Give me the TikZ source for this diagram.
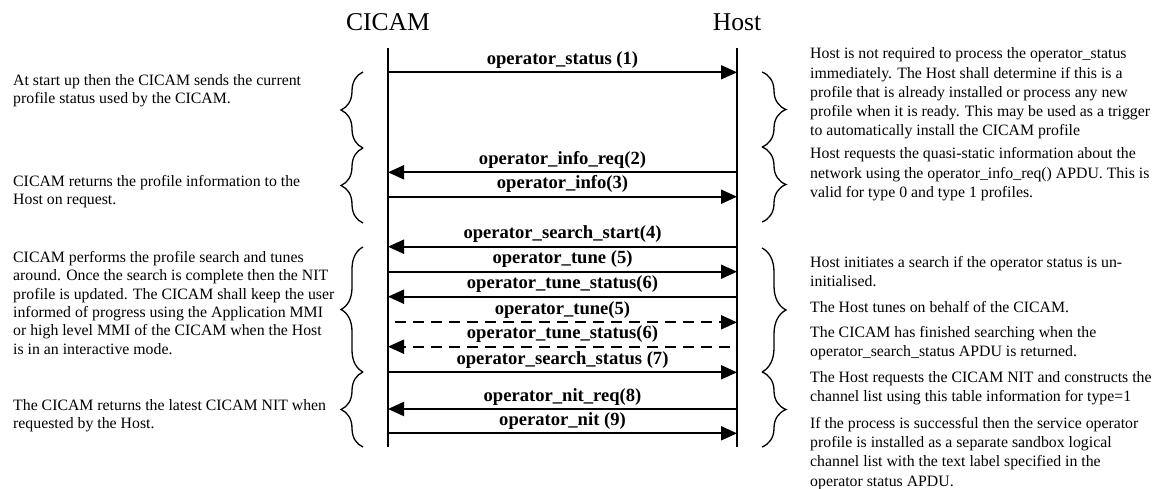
\documentclass[tikz,border=0pt]{standalone}
\usepackage{fontspec}
\setmainfont{Liberation Serif}
\usetikzlibrary{arrows.meta,decorations.pathreplacing}

\tikzset{
	msg/.style={line width=2pt, -{Triangle[length=16pt,width=14pt]}},
	dmsg/.style={msg, dash pattern=on 11pt off 7pt, dash phase=11pt},
	lbl/.style={above, inner sep=3pt, font=\fontsize{18.6}{22}\selectfont\bfseries},
	title/.style={anchor=base, font=\fontsize{25.6}{30}\selectfont},
	lnote/.style={anchor=west, inner sep=0pt, align=left, font=\fontsize{15.8}{18.4}\selectfont},
	rnote/.style={lnote, font=\fontsize{15.8}{19.2}\selectfont},
	lbrace/.style={decorate, decoration={brace,amplitude=22pt}, line width=1.3pt},
	rbrace/.style={decorate, decoration={brace,amplitude=24pt}, line width=1.3pt}
}

\begin{document}
\begin{tikzpicture}[x=1pt, y=-1pt]
	\useasboundingbox (0,0) rectangle (1161,488);
	
	\node[title] (cicam) at (388,30){CICAM};
	\node[title] (host) at (737,30){Host};
	
	\coordinate (ctop) at (388,48);
	\coordinate (cbot) at (388,447);
	\coordinate (htop) at (737,48);
	\coordinate (hbot) at (737,447);
	\draw[line width=1.5pt] (ctop) -- (cbot);
	\draw[line width=1.5pt] (htop) -- (hbot);
	
	\foreach \n/\y in {1/72.3, 2/172.3, 3/196.7, 4/246.7, 5/271.7, 6/296.7,
		7/322.3, 8/346.7, 9/372.3, 10/409, 11/433.3}{
		\coordinate (c\n) at (388,\y);
		\coordinate (h\n) at (737,\y);
	}
	
	\draw[msg] (c1) -- node[lbl] (m1){operator\_status (1)} (h1);
	\draw[msg] (h2) -- node[lbl] (m2){operator\_info\_req(2)} (c2);
	\draw[msg] (c3) -- node[lbl] (m3){operator\_info(3)} (h3);
	\draw[msg] (h4) -- node[lbl] (m4){operator\_search\_start(4)} (c4);
	\draw[msg] (c5) -- node[lbl] (m5){operator\_tune (5)} (h5);
	\draw[msg] (h6) -- node[lbl] (m6){operator\_tune\_status(6)} (c6);
	\draw[dmsg] (c7) -- node[lbl] (m7){operator\_tune(5)} (h7);
	\draw[dmsg] (h8) -- node[lbl] (m8){operator\_tune\_status(6)} (c8);
	\draw[msg] (c9) -- node[lbl] (m9){operator\_search\_status (7)} (h9);
	\draw[msg] (h10) -- node[lbl] (m10){operator\_nit\_req(8)} (c10);
	\draw[msg] (c11) -- node[lbl] (m11){operator\_nit (9)} (h11);
	
	\draw[lbrace] (363,148) -- (363,72);
	\draw[lbrace] (363,223) -- (363,148);
	\draw[lbrace] (363,372) -- (363,247);
	\draw[lbrace] (363,447) -- (363,372);
	
	\draw[rbrace] (762,72) -- (762,147);
	\draw[rbrace] (762,147) -- (762,222);
	\draw[rbrace] (762,248) -- (762,372);
	\draw[rbrace] (762,372) -- (762,447);
	
	\node[lnote] (la) at (13,90.9){At start up then the CICAM sends the current\\profile status used by the CICAM.};
	\node[lnote] (lb) at (13,191.9){CICAM returns the profile information to the\\Host on request.};
	\node[lnote] (lc) at (13,302.9){CICAM performs the profile search and tunes\\around. Once the search is complete then the NIT\\profile is updated. The CICAM shall keep the user\\informed of progress using the Application MMI\\or high level MMI of the CICAM when the Host\\is in an interactive mode.};
	\node[lnote] (ld) at (13,415.9){The CICAM returns the latest CICAM NIT when\\requested by the Host.};
	
	\node[rnote] (ra) at (810,93.5){Host is not required to process the operator\_status\\immediately. The Host shall determine if this is a\\profile that is already installed or process any new\\profile when it is ready. This may be used as a trigger\\to automatically install the CICAM profile};
	\node[rnote] (rb) at (810,174.3){Host requests the quasi-static information about the\\network using the operator\_info\_req() APDU. This is\\valid for type 0 and type 1 profiles.};
	\node[rnote] (rc) at (810,271.3){Host initiates a search if the operator status is un-\\initialised.};
	\node[rnote] (rd) at (810,307){The Host tunes on behalf of the CICAM.};
	\node[rnote] (re) at (810,342.8){The CICAM has finished searching when the\\operator\_search\_status APDU is returned.};
	\node[rnote] (rf) at (810,388.5){The Host requests the CICAM NIT and constructs the\\channel list using this table information for type=1};
	\node[rnote] (rg) at (810,453.4){If the process is successful then the service operator\\profile is installed as a separate sandbox logical\\channel list with the text label specified in the\\operator status APDU.};
\end{tikzpicture}
\end{document}
